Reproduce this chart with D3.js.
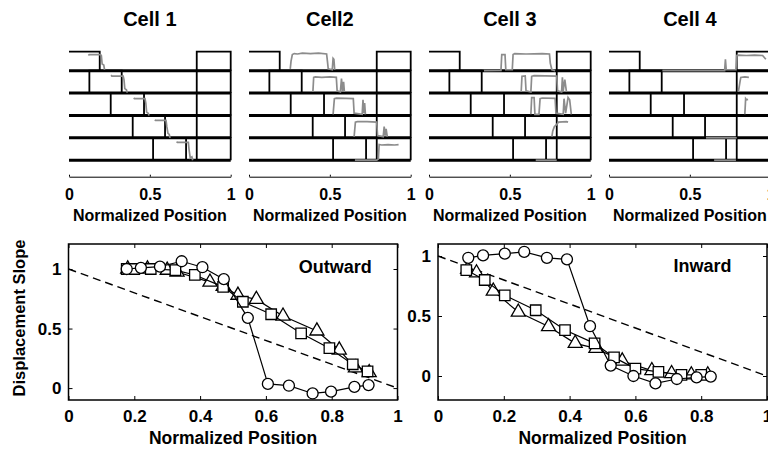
<!DOCTYPE html>
<html lang="en">
<head>
<meta charset="UTF-8">
<title>Displacement slope</title>
<style>
    body { margin: 0; background: #fff; }
    svg { display: block; font-family: "Liberation Sans", Arial, sans-serif; font-weight: bold; }
    .trace { fill: none; stroke: #8c8c8c; stroke-width: 1.7; }
    .base { stroke: #000; stroke-width: 3; }
    .edge { fill: none; stroke: #000; stroke-width: 1.8; }
    .frame { fill: none; stroke: #000; stroke-width: 1.5; }
    .series { fill: none; stroke: #000; stroke-width: 1.2; }
    .marker { fill: #fff; stroke: #000; stroke-width: 1.3; }
    .diag { fill: none; stroke: #000; stroke-width: 1.4; stroke-dasharray: 8,5; }
    .axis path, .axis line { stroke: #000; }
</style>
</head>
<body>
<svg id="fig" width="768" height="452"></svg>
<script src="https://cdn.jsdelivr.net/npm/d3@7"></script>
<script>

// ---- top row: place fields per cell ----
let cellNames = ["Cell 1", "Cell2", "Cell 3", "Cell 4"]
let topTicks = [0, 0.5, 1]
let fieldStart = [0, 0.126, 0.258, 0.394, 0.52]
let fieldEnd = [0.19, 0.326, 0.464, 0.594, 0.724]
let endBox = [0.79, 1]

// gray traces, one list per row: [position, level within row]
let trace1 = [
    [[0.12, 0.8], [0.125, 0.85], [0.195, 0.85], [0.2, 0.8], [0.205, 0.35], [0.215, 0.3], [0.22, 0.05]],
    [[0.26, 0.8], [0.265, 0.76], [0.335, 0.76], [0.34, 0.6], [0.345, 0.2], [0.355, 0.15], [0.36, 0.02]],
    [[0.4, 0.78], [0.405, 0.75], [0.47, 0.75], [0.475, 0.55], [0.48, 0.15], [0.49, 0.1], [0.495, 0]],
    [[0.53, 0.8], [0.535, 0.78], [0.6, 0.78], [0.605, 0.5], [0.612, 0.2], [0.62, 0.15], [0.625, 0]],
    [[0.665, 0.82], [0.67, 0.8], [0.738, 0.8], [0.742, 0.5], [0.75, 0.1], [0.76, 0.15], [0.765, 0]]
]
let trace2 = [
    [[0.255, 0.1], [0.26, 0.5], [0.268, 0.85], [0.28, 0.9], [0.3, 0.88], [0.33, 0.92], [0.38, 0.9], [0.43, 0.92], [0.48, 0.88], [0.485, 0.5], [0.49, 0.1], [0.515, 0.05], [0.52, 0.65], [0.525, 0.6], [0.53, 0.05]],
    [[0.395, 0.05], [0.4, 0.7], [0.41, 0.72], [0.45, 0.7], [0.5, 0.72], [0.54, 0.7], [0.545, 0.1], [0.565, 0.05], [0.572, 0.65], [0.578, 0.1], [0.585, 0.5], [0.59, 0.05]],
    [[0.52, 0.05], [0.528, 0.75], [0.54, 0.77], [0.6, 0.76], [0.645, 0.75], [0.65, 0.1], [0.7, 0.05], [0.705, 0.7], [0.71, 0.1], [0.715, 0.55], [0.72, 0.05]],
    [[0.65, 0.05], [0.658, 0.7], [0.67, 0.72], [0.73, 0.72], [0.79, 0.7], [0.795, 0.1], [0.83, 0.05], [0.836, 0.5], [0.842, 0.1], [0.848, 0.4], [0.855, 0.05]],
    [[0.655, 0], [0.79, 0], [0.8, 0.05], [0.805, 0.7], [0.82, 0.68], [0.86, 0.7], [0.9, 0.68], [0.925, 0.7]]
]
let trace3 = [
    [[0.34, 0], [0.445, 0.02], [0.45, 0.85], [0.47, 0.85], [0.475, 0.05], [0.515, 0.05], [0.52, 0.85], [0.53, 0.9], [0.6, 0.88], [0.7, 0.9], [0.745, 0.88], [0.75, 0.4], [0.76, 0.05], [0.78, 0]],
    [[0.57, 0.05], [0.575, 0.75], [0.595, 0.77], [0.6, 0.1], [0.63, 0.05], [0.635, 0.75], [0.65, 0.78], [0.72, 0.77], [0.79, 0.76], [0.795, 0.1], [0.82, 0.05], [0.825, 0.7], [0.83, 0.1], [0.84, 0.6], [0.85, 0.05]],
    [[0.63, 0.05], [0.635, 0.8], [0.65, 0.8], [0.655, 0.05], [0.68, 0.05], [0.687, 0.75], [0.7, 0.78], [0.78, 0.76], [0.785, 0.1], [0.83, 0.05], [0.835, 0.75], [0.845, 0.1], [0.86, 0.8], [0.87, 0.7], [0.88, 0.05]],
    [[0.76, 0.05], [0.765, 0.3], [0.775, 0.5], [0.79, 0.6], [0.8, 0.7], [0.85, 0.72], [0.86, 0.7]],
    [[0.66, 0], [0.79, 0]]
]
let trace4 = [
    [[0.33, 0], [0.715, 0], [0.72, 0.6], [0.725, 0.05], [0.785, 0.05], [0.79, 0.8], [0.8, 0.82], [0.85, 0.8], [0.9, 0.82], [0.95, 0.8], [0.97, 0.6]],
    [[0.8, 0.05], [0.81, 0.5], [0.815, 0.7], [0.84, 0.72], [0.865, 0.7]],
    [[0.84, 0.05], [0.845, 0.75], [0.85, 0.7], [0.86, 0.72]],
    [[0.6, 0], [0.79, 0]],
    [[0.65, 0], [0.785, 0]]
]
let traces = [trace1, trace2, trace3, trace4]

// ---- bottom row: displacement slope ----
let posTicks = [0, 0.2, 0.4, 0.6, 0.8, 1]
let slopeTicks = [0, 0.5, 1]
let diagonal = [[0, 1], [1, 0]]

let outCircle = [[0.177, 1.0], [0.22, 1.01], [0.278, 1.02], [0.344, 1.065], [0.407, 1.015], [0.472, 0.915], [0.545, 0.59], [0.606, 0.035], [0.67, 0.02], [0.742, -0.045], [0.798, -0.03], [0.869, 0.01], [0.912, 0.025]]
let outSquare = [[0.177, 1.0], [0.2, 1.0], [0.25, 1.0], [0.325, 0.99], [0.384, 0.95], [0.47, 0.85], [0.53, 0.725], [0.616, 0.62], [0.707, 0.46], [0.793, 0.335], [0.864, 0.2], [0.909, 0.14]]
let outTriangle = [[0.18, 1.0], [0.24, 1.0], [0.3, 0.99], [0.33, 0.975], [0.43, 0.89], [0.47, 0.855], [0.515, 0.78], [0.571, 0.745], [0.652, 0.605], [0.755, 0.48], [0.823, 0.32], [0.872, 0.17], [0.914, 0.13]]

let inCircle = [[0.092, 0.985], [0.137, 1.005], [0.203, 1.02], [0.262, 1.035], [0.331, 0.985], [0.392, 0.972], [0.462, 0.415], [0.525, 0.087], [0.594, 0.0], [0.661, -0.062], [0.726, -0.025], [0.786, -0.012], [0.829, -0.005]]
let inSquare = [[0.086, 0.883], [0.142, 0.8], [0.203, 0.672], [0.297, 0.548], [0.386, 0.383], [0.476, 0.272], [0.535, 0.155], [0.6, 0.062], [0.67, 0.035], [0.74, 0.01], [0.8, 0.01]]
let inTriangle = [[0.09, 0.89], [0.117, 0.86], [0.168, 0.708], [0.244, 0.533], [0.336, 0.412], [0.417, 0.272], [0.48, 0.23], [0.56, 0.125], [0.65, 0.045], [0.71, 0.02], [0.77, 0.01], [0.82, 0.01]]

let svg = d3.select("#fig")

// top panels
let cellWidth = 161.7
let rowY = d3.scaleLinear().domain([0, 1, 5]).range([51.7, 70.7, 160.2])

cellNames.forEach((name, i) => {
    let g = svg.append("g").attr("transform", "translate(" + (69 + 180 * i) + ",0)")
    let x = d3.scaleLinear().domain([0, 1]).range([0, cellWidth])

    g.append("text")
        .attr("x", x(0.5)).attr("y", 26)
        .attr("text-anchor", "middle")
        .style("font-size", "20px")
        .text(name)

    fieldStart.forEach((s, r) => {
        let top = rowY(r), bot = rowY(r + 1)
        g.append("line").attr("class", "base")
            .attr("x1", x(0)).attr("x2", x(1)).attr("y1", bot).attr("y2", bot)
        ;[[s, fieldEnd[r]], endBox].forEach(b => {
            let d = b[0] === 0
                ? "M" + x(b[0]) + "," + top + "H" + x(b[1]) + "V" + bot
                : "M" + x(b[0]) + "," + bot + "V" + top + "H" + x(b[1]) + "V" + bot
            g.append("path").attr("class", "edge").attr("d", d)
        })
    })

    traces[i].forEach((row, r) => {
        let lvl = d3.scaleLinear().domain([0, 1]).range([rowY(r + 1), rowY(r)])
        let line = d3.line().x(d => x(d[0])).y(d => lvl(d[1]))
        g.append("path").attr("class", "trace").attr("d", line(row))
    })

    let ax = g.append("g").attr("class", "axis")
        .attr("transform", "translate(0,176.7)")
        .call(d3.axisBottom(x).tickValues(topTicks)
            .tickSizeInner(-2).tickSizeOuter(0).tickPadding(12)
            .tickFormat(d3.format("")))
    ax.attr("font-size", null).attr("font-family", null)
    ax.selectAll("text").style("font-size", "16px")

    g.append("text")
        .attr("x", x(0.5)).attr("y", 221)
        .attr("text-anchor", "middle")
        .style("font-size", "16px")
        .text("Normalized Position")
})

// bottom panels
let panelW = 329, panelH = 156

function drawPanel(left, yDomain, circles, squares, triangles, title, titlePos) {
    let g = svg.append("g").attr("transform", "translate(" + left + ",244)")
    let x = d3.scaleLinear().domain([0, 1]).range([0, panelW])
    let y = d3.scaleLinear().domain(yDomain).range([panelH, 0])
    let fmt = d3.format("")

    let axes = [
        [d3.axisBottom(x).tickValues(posTicks).tickPadding(10).tickFormat(fmt), "translate(0," + panelH + ")"],
        [d3.axisTop(x).tickValues(posTicks).tickFormat(""), "translate(0,0)"],
        [d3.axisLeft(y).tickValues(slopeTicks).tickPadding(7).tickFormat(fmt), "translate(0,0)"],
        [d3.axisRight(y).tickValues(slopeTicks).tickFormat(""), "translate(" + panelW + ",0)"]
    ]
    axes.forEach(a => {
        let ax = g.append("g").attr("class", "axis")
            .attr("transform", a[1])
            .call(a[0].tickSizeInner(-4).tickSizeOuter(0))
        ax.attr("font-size", null).attr("font-family", null)
        ax.select(".domain").remove()
        ax.selectAll("text").style("font-size", "17px")
    })

    g.append("rect").attr("class", "frame")
        .attr("width", panelW).attr("height", panelH)

    let line = d3.line().x(d => x(d[0])).y(d => y(d[1]))
    g.append("path").attr("class", "diag").attr("d", line(diagonal))

    let sets = [
        [triangles, d3.symbolTriangle, 85],
        [squares, d3.symbolSquare, 110],
        [circles, d3.symbolCircle, 95]
    ]
    sets.forEach(s => {
        g.append("path").attr("class", "series").attr("d", line(s[0]))
        g.selectAll(null).data(s[0]).join("path")
            .attr("class", "marker")
            .attr("transform", d => "translate(" + x(d[0]) + "," + y(d[1]) + ")")
            .attr("d", d3.symbol().type(s[1]).size(s[2]))
    })

    g.append("text")
        .attr("x", x(titlePos[0])).attr("y", y(titlePos[1]))
        .style("font-size", "18px")
        .text(title)

    g.append("text")
        .attr("x", x(0.5)).attr("y", 200)
        .attr("text-anchor", "middle")
        .style("font-size", "17.5px")
        .text("Normalized Position")
}

drawPanel(68.5, [-0.1, 1.21], outCircle, outSquare, outTriangle, "Outward", [0.7, 0.97])
drawPanel(438, [-0.2, 1.1], inCircle, inSquare, inTriangle, "Inward", [0.716, 0.87])

svg.append("text")
    .attr("transform", "translate(25,318) rotate(-90)")
    .attr("text-anchor", "middle")
    .style("font-size", "16.5px")
    .text("Displacement Slope")

</script>
</body>
</html>
